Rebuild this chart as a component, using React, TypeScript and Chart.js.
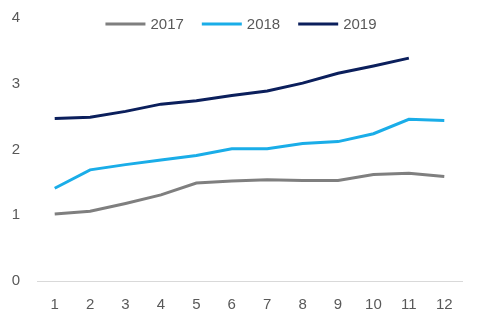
import React, { useEffect, useRef } from "react";
import { Chart, registerables } from "chart.js";

Chart.register(...registerables);

const categories = ["1", "2", "3", "4", "5", "6", "7", "8", "9", "10", "11", "12"];
const series2017 = [1.02, 1.06, 1.18, 1.31, 1.49, 1.52, 1.54, 1.53, 1.53, 1.62, 1.64, 1.59];
const series2018 = [1.41, 1.69, 1.77, 1.84, 1.91, 2.01, 2.01, 2.09, 2.12, 2.24, 2.46, 2.44];
const series2019 = [2.47, 2.49, 2.58, 2.69, 2.74, 2.82, 2.89, 3.01, 3.16, 3.27, 3.39, null];
const yTicks = [0, 1, 2, 3, 4];

const FONT_FAMILY = "'Liberation Sans', Arial, sans-serif";

const topLegend = {
  id: "topLegend",
  afterDraw(chart: any) {
    const ctx = chart.ctx;
    const items = chart.data.datasets.map((d: any) => ({ text: d.label, color: d.borderColor }));
    ctx.save();
    ctx.font = `15px ${FONT_FAMILY}`;
    const lineW = 40;
    const gap = 5;
    const itemGap = 18;
    const widths = items.map((it: any) => lineW + gap + ctx.measureText(it.text).width);
    const total = widths.reduce((a: number, b: number) => a + b, 0) + itemGap * (items.length - 1);
    let x = 241 - total / 2;
    const y = 24;
    items.forEach((it: any, i: number) => {
      ctx.strokeStyle = it.color;
      ctx.lineWidth = 3;
      ctx.beginPath();
      ctx.moveTo(x, y);
      ctx.lineTo(x + lineW, y);
      ctx.stroke();
      ctx.fillStyle = "#595959";
      ctx.textBaseline = "middle";
      ctx.textAlign = "left";
      ctx.fillText(it.text, x + lineW + gap, y + 1);
      x += widths[i] + itemGap;
    });
    ctx.restore();
  },
};

export default function App() {
  const ref = useRef<HTMLCanvasElement>(null);
  useEffect(() => {
    const font = { family: FONT_FAMILY, size: 15 };
    const chart = new Chart(ref.current!, {
      type: "line",
      data: {
        labels: categories,
        datasets: [
          { label: "2017", data: series2017, borderColor: "#7f7f7f", backgroundColor: "#7f7f7f" },
          { label: "2018", data: series2018, borderColor: "#1aade8", backgroundColor: "#1aade8" },
          { label: "2019", data: series2019, borderColor: "#0b1f5c", backgroundColor: "#0b1f5c" },
        ].map((d) => ({ ...d, borderWidth: 3, pointRadius: 0, tension: 0, fill: false })),
      },
      plugins: [topLegend],
      options: {
        animation: false,
        responsive: false,
        maintainAspectRatio: false,
        layout: { padding: { top: 7, right: 19, bottom: 3, left: 8 } },
        plugins: {
          tooltip: { enabled: false },
          legend: { display: false },
        },
        scales: {
          x: {
            offset: true,
            grid: { display: false },
            border: { display: true, color: "#d9d9d9", width: 1 },
            ticks: { color: "#595959", font, maxRotation: 0, padding: 7 },
          },
          y: {
            min: 0,
            max: 4,
            afterBuildTicks: (s: any) => {
              s.ticks = yTicks.map((v) => ({ value: v }));
            },
            afterFit: (s: any) => {
              s.width = 29;
            },
            grid: { display: false },
            border: { display: false },
            ticks: { color: "#595959", font, padding: 9 },
          },
        },
      },
    });
    return () => chart.destroy();
  }, []);
  return (
    <div style={{ position: "fixed", left: 0, top: 0, width: 481, height: 324, background: "#fff" }}>
      <canvas ref={ref} width={481} height={324} />
    </div>
  );
}
